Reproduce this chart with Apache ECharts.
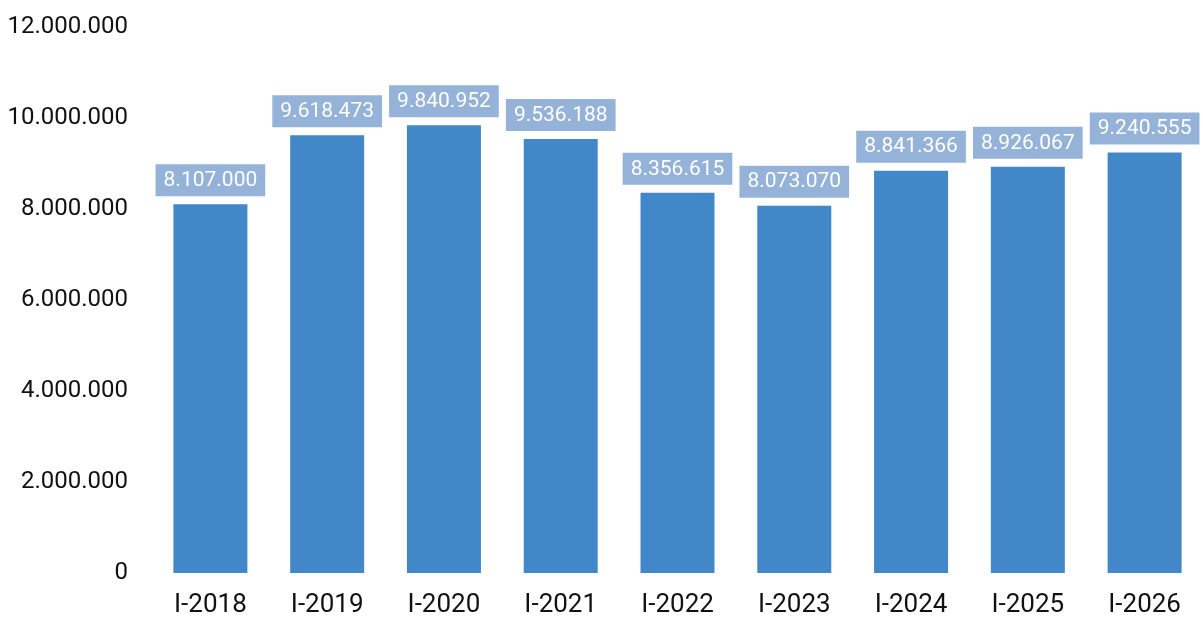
<!DOCTYPE html>
<html><head><meta charset="utf-8">
<script src="https://cdn.jsdelivr.net/npm/echarts@6/dist/echarts.min.js"></script>
<style>html,body{margin:0;padding:0;background:#fff}#c{width:1203px;height:619px}</style>
</head><body><div id="c"></div>
<script>
const categories = ['I-2018','I-2019','I-2020','I-2021','I-2022','I-2023','I-2024','I-2025','I-2026'];
const values = [8107000, 9618473, 9840952, 9536188, 8356615, 8073070, 8841366, 8926067, 9240555];
const yTicks = [0, 2000000, 4000000, 6000000, 8000000, 10000000, 12000000];

function fmt(v){ return String(v).replace(/\B(?=(\d{3})+(?!\d))/g, '.'); }

const chart = echarts.init(document.getElementById('c'));
chart.setOption({
  animation: false,
  grid: { left: 152, top: 27, width: 1058, bottom: 46, containLabel: false },
  xAxis: {
    type: 'category', data: categories,
    axisLine: { show: false }, axisTick: { show: false },
    axisLabel: { color: '#111', fontFamily: 'Roboto', fontSize: 26, margin: 19 }
  },
  yAxis: {
    type: 'value', min: yTicks[0], max: yTicks[yTicks.length-1], interval: 2000000,
    splitLine: { show: false }, axisLine: { show: false }, axisTick: { show: false },
    axisLabel: { color: '#111', fontFamily: 'Roboto', fontSize: 24, margin: 24, formatter: fmt }
  },
  series: [{
    type: 'bar', data: values, barWidth: 74,
    itemStyle: { color: '#4288c8' },
    label: {
      show: true, position: 'top', distance: 8,
      formatter: p => fmt(p.value),
      color: '#fff', fontFamily: 'Roboto', fontSize: 21,
      backgroundColor: '#95b3d8', padding: [6, 8, 5, 8]
    }
  }]
});
</script></body></html>
